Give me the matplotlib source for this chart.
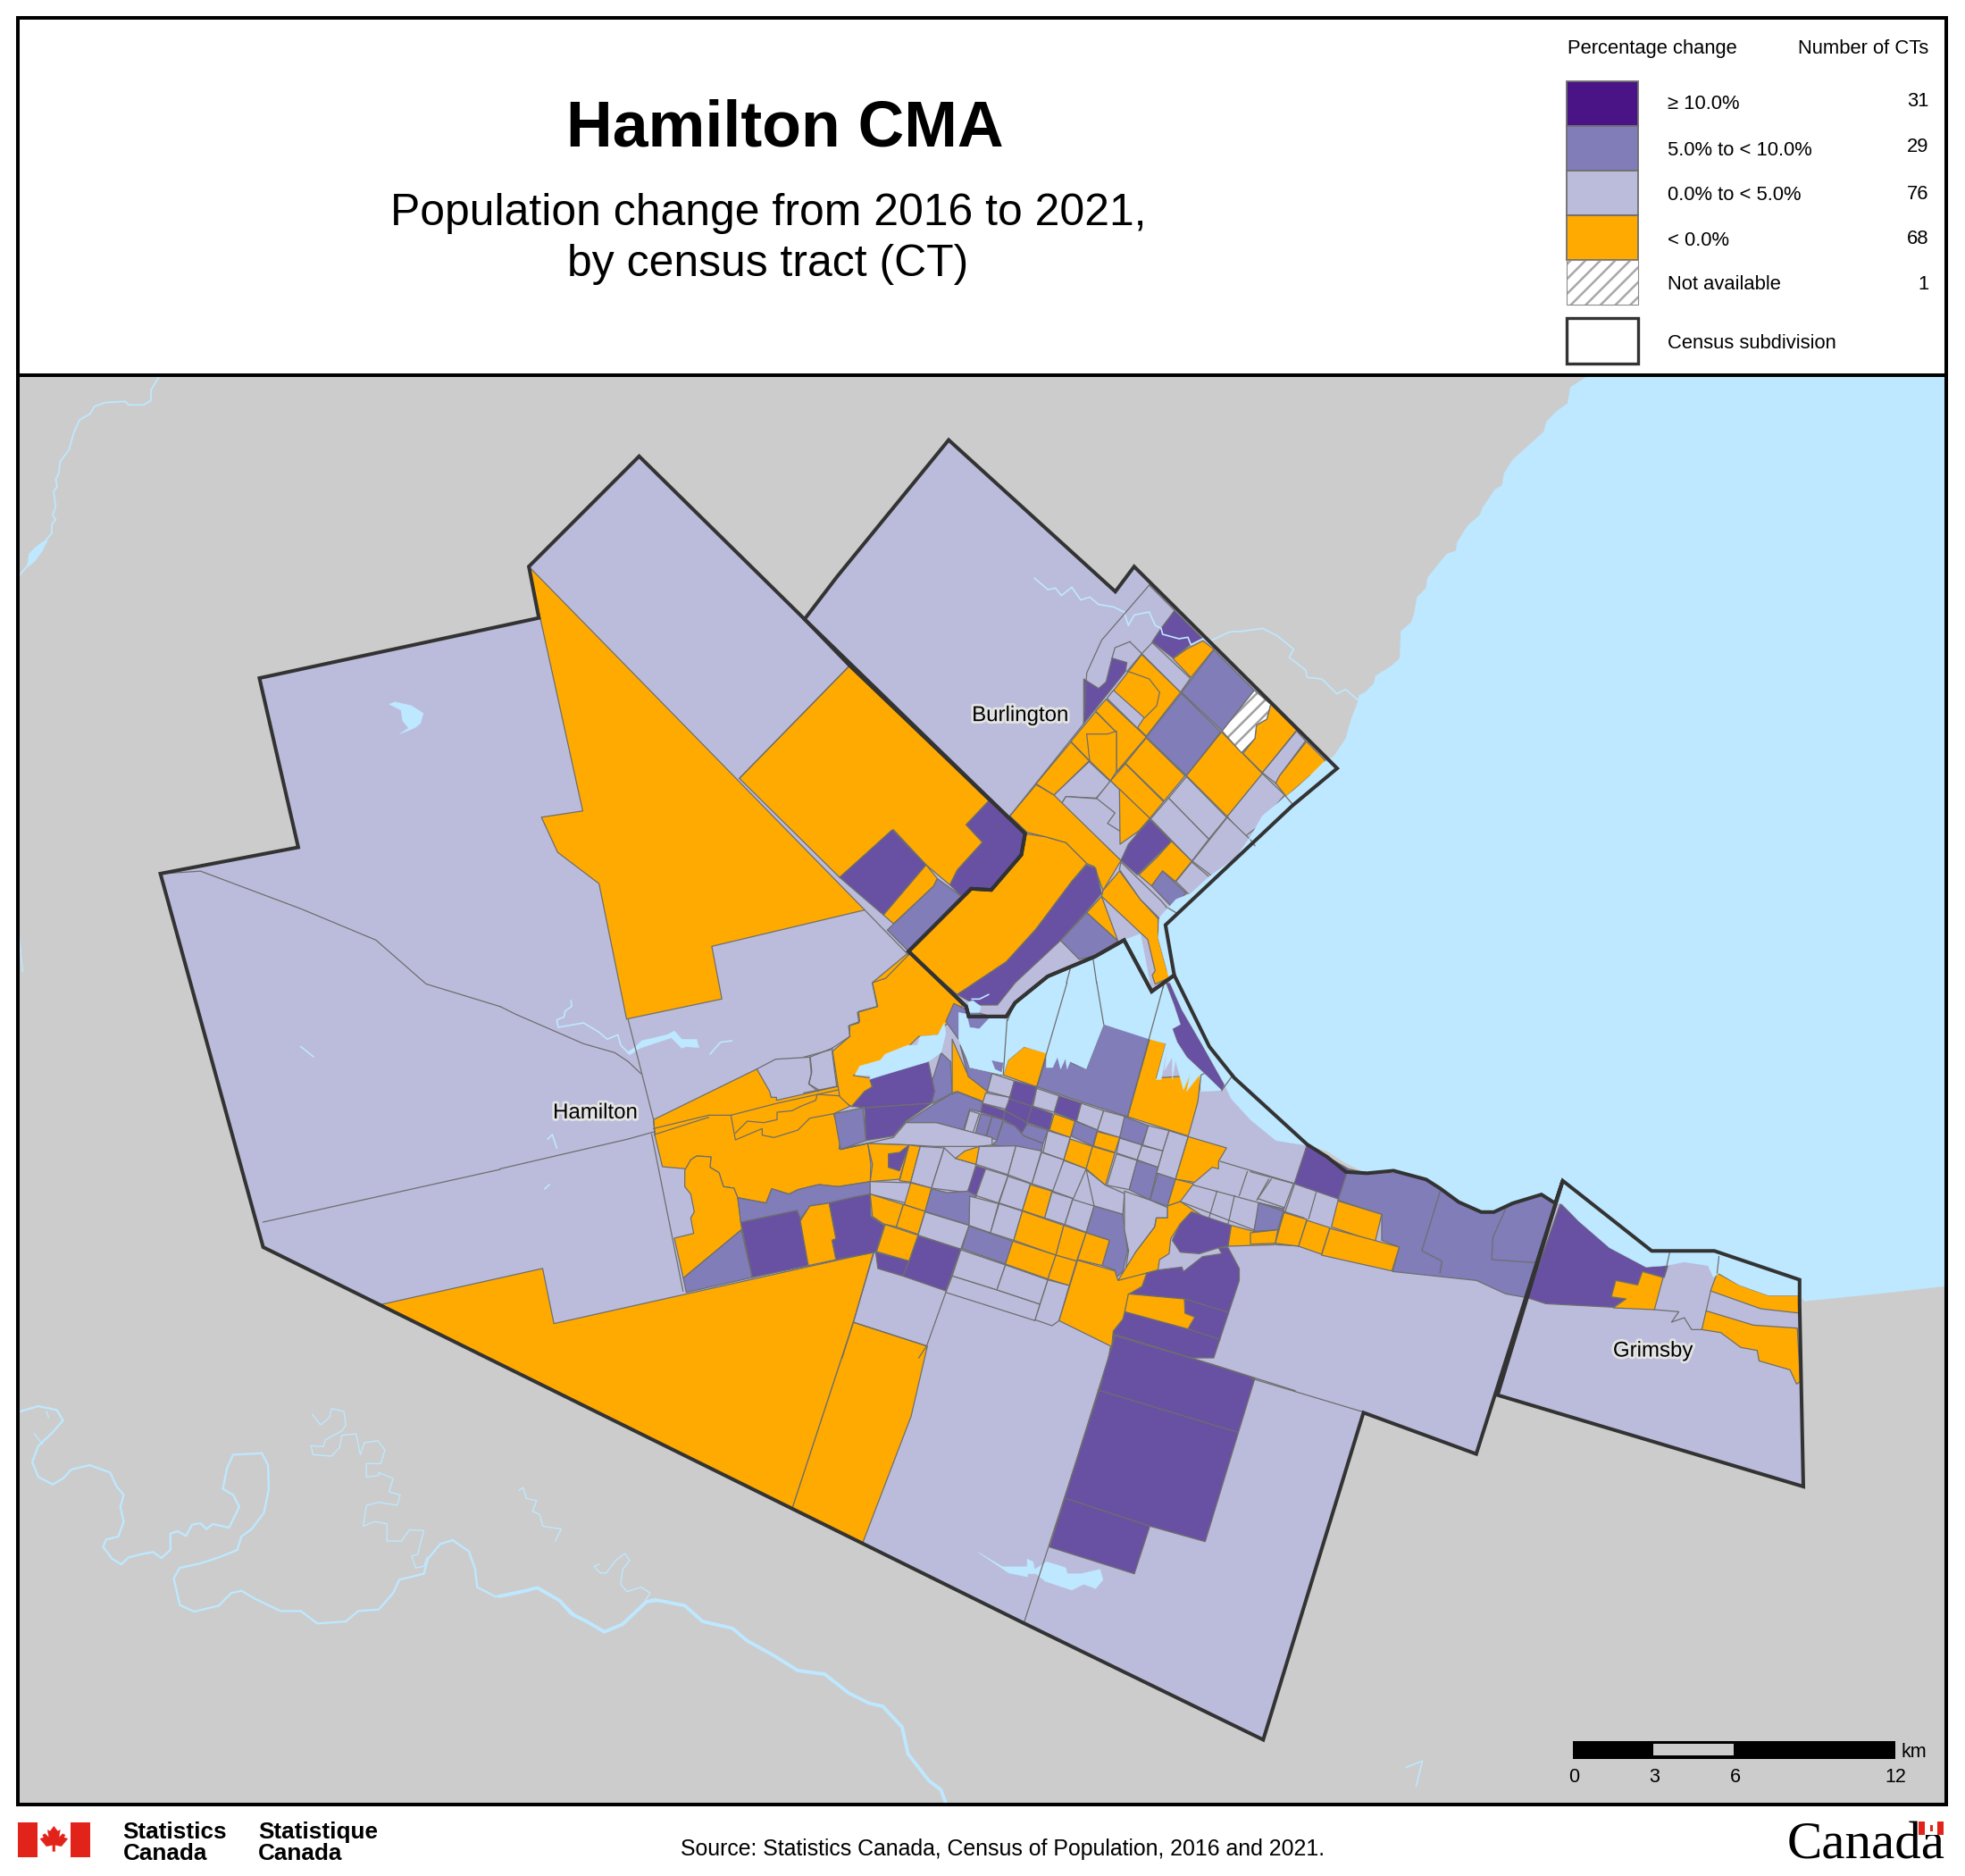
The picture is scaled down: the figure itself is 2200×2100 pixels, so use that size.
"""Hamilton CMA census tract map, traced by hand from the published figure."""
import matplotlib

matplotlib.use("Agg")
import matplotlib.pyplot as plt
import matplotlib.patheffects as pe
from matplotlib.patches import Polygon, Rectangle

plt.rcParams["font.family"] = ["Liberation Sans", "DejaVu Sans"]
plt.rcParams["hatch.linewidth"] = 1.8

# Legend table
LEGEND_LABELS = ["≥ 10.0%", "5.0% to < 10.0%", "0.0% to < 5.0%", "< 0.0%", "Not available"]
LEGEND_COUNTS = [31, 29, 76, 68, 1]
SCALE_KM = [0, 3, 6, 12]

COLORS = {"P": "#6851A2", "M": "#807DB8", "L": "#BBBCDB", "O": "#FFAA00"}
LEGEND_COLORS = ["#4A1486", "#807DB8", "#BBBCDB", "#FFAA00"]
LAND = "#CCCCCC"
WATER = "#BEE8FF"
EDGE = "#6E6E6E"
OUTLINE = "#333333"

# Tract geometry. Each group is traced in the pixel frame of one crop of the map.
# --- whole map frame
CSD_HAMILTON = [(422, 452), (510, 364), (642, 494), (678, 531), (818, 665), (815, 682), (791, 710), (775, 709),
                (725, 759), (771, 803), (773, 811), (803, 811), (810, 800), (836, 779), (874, 763), (897, 750),
                (919, 791), (937, 778), (965, 835), (985, 860), (1043, 913), (1059, 923), (1074, 935), (1091, 936),
                (1112, 934), (1138, 941), (1149, 948), (1164, 959), (1182, 967), (1192, 967), (1207, 960),
                (1230, 953), (1241, 960), (1247, 942), (1178, 1160), (1088, 1127), (1008, 1388), (817, 1295),
                (210, 995), (128, 697), (238, 676), (207, 541), (430, 493)]
CSD_BURLINGTON = [(905, 452), (890, 472), (757, 351), (668, 460), (642, 494), (818, 665), (815, 682), (791, 710),
                  (775, 709), (725, 759), (771, 803), (773, 811), (803, 811), (810, 800), (836, 779), (874, 763),
                  (897, 750), (919, 791), (937, 778), (930, 738), (1031, 643), (1067, 613)]
CSD_GRIMSBY = [(1247, 942), (1318, 998), (1368, 998), (1436, 1021), (1436, 1040), (1439, 1186), (1195, 1113)]

TRACTS_MAP = [
    ("O", [(422, 452), (465, 647), (432, 652), (445, 680), (478, 705), (500, 813), (576, 797), (568, 755), (690, 726)]),
    ("O", [(590, 621), (678, 531), (789, 639), (771, 658), (784, 672), (764, 694), (758, 706), (739, 690), (713, 662),
           (670, 700)]),
    ("P", [(712, 662), (739, 690), (705, 730), (670, 700)]),
    ("O", [(739, 690), (748, 701), (745, 707), (713, 737), (705, 730)]),
    ("M", [(748, 701), (767, 715), (725, 759), (708, 742), (745, 707)]),
    ("P", [(789, 639), (818, 665), (815, 682), (791, 710), (775, 709), (767, 715), (758, 706), (764, 694), (784, 672),
           (771, 658)]),
    ("O", [(696, 784), (725, 760), (768, 802), (760, 815), (754, 818), (748, 826), (733, 827), (725, 835), (708, 845),
           (681, 858), (694, 860), (696, 867), (690, 871), (690, 876), (680, 883), (669, 877), (664, 839), (678, 827),
           (678, 818), (686, 815), (685, 807), (700, 803)]),
    ("O", [(303, 1041), (433, 1012), (442, 1056), (697, 999), (681, 1055), (632, 1204)]),
    ("O", [(681, 1055), (740, 1074), (727, 1130), (688, 1232), (632, 1204)]),
]

# --- west hamilton crop
TRACTS_WEST = [
    ("O", [(515, 760), (862, 590), (905, 665), (910, 685), (928, 685), (928, 695), (1135, 648), (1140, 682), (1175, 715),
           (1120, 740), (1145, 820), (1138, 858), (1235, 840), (1245, 910), (1243, 968), (1135, 985), (1070, 978),
           (1000, 995), (970, 1010), (912, 992), (893, 1040), (798, 1022), (785, 990), (750, 985), (735, 938), (705, 920),
           (708, 885), (660, 882), (640, 895), (625, 925), (545, 918), (520, 815)]),
    ("O", [(640, 895), (660, 882), (708, 885), (705, 920), (735, 938), (750, 985), (785, 990), (798, 1022), (812, 1128),
           (615, 1292), (585, 1158), (650, 1142), (640, 1090), (652, 1070), (640, 1010), (620, 985), (620, 930)]),
    ("M", [(798, 1022), (893, 1040), (912, 992), (970, 1010), (1000, 995), (1070, 978), (1135, 985), (1243, 968),
           (1243, 1010), (1190, 1020), (1105, 1040), (1040, 1050), (1005, 1098), (997, 1065), (808, 1105)]),
    ("M", [(615, 1292), (810, 1130), (847, 1290), (625, 1340)]),
    ("P", [(808, 1105), (997, 1065), (1012, 1100), (1035, 1250), (847, 1290)]),
    ("O", [(1008, 1100), (1040, 1050), (1105, 1040), (1128, 1160), (1115, 1165), (1128, 1230), (1035, 1250)]),
    ("P", [(1105, 1040), (1190, 1020), (1243, 1010), (1245, 1085), (1290, 1115), (1262, 1205), (1128, 1230), (1115, 1165),
           (1128, 1160)]),
]
LINES_WEST = [
    [(0, 380), (50, 405), (280, 505), (385, 535), (430, 565), (472, 605)], [(0, 925), (430, 825), (520, 800)],
    [(430, 425), (515, 760), (520, 815)],
    [(515, 790), (700, 745), (775, 745), (790, 828), (880, 790), (880, 812), (920, 820), (1000, 795), (1040, 755), (1120, 740)],
    [(518, 810), (700, 752)], [(775, 745), (930, 705), (1135, 660)],
    [(790, 805), (830, 765), (885, 770), (930, 760), (930, 735), (980, 730), (1010, 715), (1060, 695), (1065, 675), (1140, 680)],
    [(862, 590), (925, 557), (1040, 550), (1115, 520), (1175, 480), (1170, 445), (1205, 435), (1200, 400), (1268, 380),
     (1250, 300), (1295, 285), (1378, 200)],
    [(1040, 550), (1045, 605), (1037, 640), (1070, 660)], [(1115, 520), (1135, 650)],
]
RESERVOIR_WEST = [(455, 515), (475, 495), (560, 475), (585, 462), (610, 490), (660, 490), (668, 518), (625, 515),
                  (610, 520), (575, 485), (470, 520), (440, 540), (425, 535)]
STREAMS_WEST = [
    [(238, 360), (240, 380), (218, 395), (215, 415), (190, 425), (195, 450), (280, 435), (330, 465), (360, 490), (395, 475),
     (405, 510), (435, 540)],
    [(705, 540), (740, 500), (778, 495)], [(160, 825), (175, 810), (190, 855)], [(150, 992), (165, 978)],
]

# --- burlington crop
TRACTS_BURL = [
    ("P", [(945, 190), (1040, 285), (1000, 305), (985, 315), (940, 350), (870, 295), (900, 250)]),
    ("O", [(985, 320), (1040, 292), (1077, 320), (1000, 415), (940, 352)]),
    ("M", [(1077, 322), (1213, 458), (1105, 595), (968, 465)]),
    ("M", [(968, 468), (1100, 598), (985, 745), (850, 615)]),
    ("O", [(1268, 505), (1355, 592), (1240, 735), (1175, 670), (1215, 620), (1220, 575), (1255, 555)]),
    ("L", [(1355, 595), (1385, 628), (1298, 745), (1285, 770), (1310, 790), (1240, 735)]),
    ("O", [(1388, 630), (1452, 695), (1440, 730), (1400, 745), (1320, 815), (1285, 770), (1298, 745)]),
    ("O", [(1103, 598), (1240, 738), (1122, 882), (985, 745)]),
    ("L", [(1240, 738), (1315, 810), (1220, 920), (1180, 950), (1122, 882)]),
    ("L", [(985, 748), (1120, 885), (1060, 958), (925, 820)]),
    ("L", [(925, 820), (1060, 958), (1003, 1032), (865, 890)]),
    ("L", [(1122, 885), (1200, 960), (1150, 1020), (1075, 1085), (1005, 1032)]),
    ("L", [(870, 298), (998, 418), (965, 465), (835, 335)]),
    ("O", [(850, 618), (980, 745), (910, 830), (780, 703)]),
    ("O", [(780, 705), (908, 832), (862, 888), (730, 762)]),
    ("O", [(850, 615), (780, 703), (750, 732), (750, 600), (763, 535)]),
    ("O", [(835, 338), (965, 465), (850, 612), (720, 485)]),
    ("L", [(740, 458), (843, 550), (820, 585), (718, 485)]),
    ("O", [(680, 528), (715, 488), (850, 615), (750, 732), (750, 600)]),
    ("O", [(597, 630), (680, 530), (750, 600), (750, 730), (730, 762), (660, 695)]),
    ("O", [(480, 772), (597, 632), (658, 695), (540, 810)]),
    ("L", [(658, 698), (730, 765), (682, 820), (580, 815), (565, 840), (540, 810)]),
    ("L", [(565, 840), (580, 815), (682, 822), (730, 762), (860, 890), (825, 930), (765, 1030)]),
    ("O", [(760, 790), (862, 888), (825, 930), (762, 975)]),
    ("P", [(862, 892), (935, 965), (820, 1078), (765, 1030), (790, 975)]),
    ("O", [(935, 965), (1003, 1032), (948, 1100), (905, 1065), (868, 1115), (825, 1078), (885, 1020)]),
    ("M", [(905, 1065), (985, 1140), (935, 1185), (868, 1115)]),
    ("L", [(1003, 1035), (1080, 1100), (1000, 1150), (950, 1100)]),
    ("O", [(480, 775), (540, 810), (765, 1030), (705, 1130), (675, 1050), (650, 1040), (580, 970), (510, 950),
           (450, 935), (392, 880)]),
    ("O", [(445, 940), (510, 950), (580, 970), (650, 1040), (600, 1100), (480, 1260), (380, 1370), (215, 1480),
           (50, 1335), (262, 1125), (330, 1130), (430, 1010)]),
    ("P", [(650, 1045), (680, 1055), (700, 1140), (650, 1200), (560, 1300), (410, 1440), (350, 1515), (280, 1515),
           (215, 1480), (380, 1370), (480, 1260), (600, 1100)]),
    ("O", [(700, 1150), (755, 1300), (650, 1205)]),
    ("M", [(650, 1205), (755, 1300), (675, 1350), (625, 1362), (562, 1298)]),
    ("O", [(705, 1130), (760, 1065), (830, 1160), (890, 1225), (890, 1290), (920, 1400), (945, 1415), (880, 1445),
           (870, 1415), (880, 1400), (855, 1295), (700, 1150)]),
    ("L", [(765, 1035), (900, 1165), (925, 1195), (895, 1225), (830, 1160), (760, 1060)]),
    ("P", [(640, 420), (690, 452), (715, 430), (735, 350), (785, 365), (780, 395), (640, 570)]),
]
NOT_AVAILABLE_BURL = [(1213, 458), (1268, 505), (1255, 555), (1220, 575), (1215, 620), (1170, 668), (1105, 595)]

# --- central hamilton crop
TRACTS_CORE = [
    ("M", [(445, 130), (470, 70), (500, 85), (590, 115), (550, 160), (515, 150), (485, 190)]),
    ("M", [(395, 355), (430, 235), (460, 265), (465, 370), (405, 405)]),
    ("O", [(465, 190), (510, 300), (575, 365), (565, 400), (480, 365), (465, 370)]),
    ("M", [(490, 210), (520, 285), (625, 310), (590, 305), (575, 365), (515, 315)]),
    ("O", [(625, 310), (640, 260), (690, 215), (765, 235), (730, 350)]),
    ("M", [(730, 350), (765, 235), (885, 290), (940, 140), (1085, 185), (1015, 450), (870, 400)]),
    ("O", [(1015, 450), (1085, 185), (1135, 205), (1105, 320), (1245, 310), (1235, 400), (1205, 515)]),
    ("P", [(1135, 0), (1150, 5), (1185, 90), (1250, 210), (1318, 340), (1310, 362), (1255, 305), (1200, 250),
           (1170, 200), (1155, 155), (1180, 140), (1160, 75)]),
    ("L", [(590, 305), (660, 330), (645, 385), (575, 365)]),
    ("L", [(570, 370), (645, 385), (635, 425), (560, 405)]),
    ("P", [(660, 330), (730, 350), (715, 415), (645, 390)]),
    ("P", [(645, 390), (715, 415), (700, 470), (630, 430)]),
    ("P", [(560, 405), (630, 430), (625, 460), (555, 435)]),
    ("P", [(630, 430), (700, 470), (690, 510), (660, 480), (625, 460)]),
    ("P", [(715, 415), (780, 440), (770, 495), (700, 470)]),
    ("L", [(730, 355), (800, 380), (785, 435), (718, 415)]),
    ("P", [(800, 380), (870, 405), (855, 465), (785, 435)]),
    ("M", [(700, 475), (765, 495), (750, 540), (680, 510)]),
    ("O", [(785, 440), (850, 465), (835, 520), (770, 495)]),
    ("L", [(870, 405), (940, 430), (920, 495), (855, 465)]),
    ("L", [(940, 430), (1010, 450), (990, 520), (920, 497)]),
    ("M", [(1005, 450), (1080, 480), (1060, 545), (990, 520)]),
    ("L", [(1080, 480), (1145, 497), (1125, 565), (1062, 545)]),
    ("L", [(1145, 497), (1205, 517), (1165, 660), (1105, 640), (1125, 565)]),
    ("M", [(850, 465), (920, 495), (905, 548), (838, 515)]),
    ("O", [(920, 500), (990, 520), (975, 570), (908, 548)]),
    ("L", [(765, 497), (835, 520), (815, 595), (750, 570)]),
    ("O", [(835, 525), (905, 550), (885, 625), (815, 595)]),
    ("O", [(905, 550), (975, 572), (945, 680), (885, 625)]),
    ("L", [(990, 522), (1060, 545), (1045, 595), (980, 572)]),
    ("L", [(1060, 547), (1125, 565), (1110, 620), (1045, 595)]),
    ("L", [(980, 575), (1045, 597), (1020, 695), (950, 680)]),
    ("M", [(1045, 597), (1110, 620), (1085, 730), (1020, 695)]),
    ("M", [(1110, 640), (1165, 660), (1140, 750), (1085, 730)]),
    ("O", [(1205, 517), (1325, 555), (1300, 600), (1300, 625), (1280, 620), (1225, 670), (1165, 660)]),
    ("O", [(1165, 660), (1222, 675), (1180, 735), (1140, 750)]),
    ("P", [(150, 415), (190, 365), (215, 350), (205, 320), (390, 265), (410, 365), (400, 405), (190, 420)]),
    ("P", [(190, 420), (400, 405), (320, 465), (300, 490), (280, 515), (195, 530)]),
    ("M", [(95, 440), (185, 420), (195, 530), (115, 560)]),
    ("M", [(320, 470), (405, 410), (460, 375), (485, 368), (560, 400), (555, 435), (520, 425), (500, 495), (415, 470)]),
    ("L", [(520, 430), (550, 440), (530, 505), (503, 495)]),
    ("M", [(555, 440), (590, 450), (570, 518), (537, 510)]),
    ("M", [(590, 450), (625, 460), (605, 528), (572, 518)]),
    ("M", [(625, 465), (660, 480), (690, 515), (750, 540), (745, 565), (590, 545), (605, 530)]),
    ("L", [(115, 560), (195, 540), (280, 520), (320, 470), (415, 470), (590, 520), (590, 545), (545, 550), (410, 550),
           (330, 545), (200, 540)]),
    ("O", [(200, 540), (330, 545), (300, 660), (208, 668), (215, 610)]),
    ("P", [(265, 575), (300, 570), (330, 545), (300, 632), (265, 620)]),
    ("O", [(330, 545), (365, 550), (335, 670), (300, 665)]),
    ("L", [(365, 550), (440, 555), (400, 690), (335, 670)]),
    ("L", [(440, 555), (475, 590), (540, 610), (515, 705), (400, 690)]),
    ("P", [(540, 615), (570, 625), (540, 712), (512, 705)]),
    ("O", [(475, 590), (505, 565), (550, 550), (540, 610)]),
    ("L", [(550, 550), (665, 548), (640, 645), (540, 610)]),
    ("L", [(665, 548), (745, 565), (715, 675), (640, 645)]),
    ("L", [(745, 570), (815, 595), (785, 700), (715, 675)]),
    ("L", [(815, 597), (885, 625), (845, 725), (780, 700)]),
    ("L", [(570, 625), (640, 648), (610, 740), (540, 715)]),
    ("L", [(640, 650), (710, 675), (685, 765), (612, 740)]),
    ("O", [(710, 678), (778, 700), (755, 790), (685, 765)]),
    ("L", [(778, 703), (843, 725), (818, 812), (755, 790)]),
    ("L", [(843, 728), (910, 750), (885, 838), (818, 812)]),
    ("L", [(885, 628), (945, 680), (1005, 708), (1000, 778), (910, 750)]),
    ("M", [(910, 750), (1000, 778), (1015, 900), (1000, 970), (980, 990), (975, 965), (935, 950), (958, 865), (885, 840)]),
    ("L", [(1005, 700), (1085, 730), (1140, 755), (1140, 790), (1105, 790), (1100, 820), (1040, 905), (1005, 990),
           (1018, 900), (1005, 830)]),
    ("O", [(1140, 750), (1180, 735), (1245, 780), (1215, 770), (1180, 810), (1150, 860), (1145, 910), (1115, 930),
           (1110, 965), (1075, 975), (1000, 1005), (985, 1000), (1040, 905), (1100, 820), (1105, 790), (1140, 790)]),
    ("P", [(1180, 810), (1215, 770), (1340, 815), (1330, 885), (1300, 890), (1240, 910), (1180, 905), (1155, 865)]),
    ("O", [(1340, 815), (1410, 835), (1490, 830), (1475, 880), (1330, 885)]),
    ("M", [(1430, 740), (1505, 760), (1490, 830), (1410, 835)]),
    ("O", [(1510, 770), (1568, 790), (1568, 885), (1480, 880)]),
    ("L", [(208, 668), (335, 672), (320, 740), (208, 710)]),
    ("O", [(335, 672), (400, 690), (380, 768), (315, 745)]),
    ("M", [(400, 692), (450, 705), (515, 700), (540, 715), (520, 815), (380, 768)]),
    ("O", [(208, 710), (312, 745), (290, 820), (250, 810), (215, 785)]),
    ("O", [(312, 745), (380, 768), (358, 845), (290, 820)]),
    ("L", [(380, 770), (518, 815), (492, 895), (358, 848)]),
    ("L", [(520, 717), (610, 742), (585, 840), (518, 815)]),
    ("L", [(612, 742), (685, 767), (658, 865), (585, 840)]),
    ("M", [(518, 817), (655, 868), (632, 945), (495, 893)]),
    ("O", [(685, 767), (815, 815), (790, 915), (658, 865)]),
    ("O", [(815, 815), (885, 840), (855, 935), (790, 915)]),
    ("O", [(885, 840), (958, 865), (935, 950), (858, 930)]),
    ("O", [(655, 868), (790, 915), (765, 995), (632, 945)]),
    ("O", [(790, 915), (855, 935), (832, 1017), (765, 995)]),
    ("O", [(255, 812), (358, 848), (330, 935), (228, 903)]),
    ("P", [(358, 850), (492, 895), (445, 1035), (310, 985), (330, 935)]),
    ("P", [(225, 905), (330, 935), (310, 985), (232, 960)]),
    ("L", [(492, 897), (632, 948), (605, 1032), (465, 985)]),
    ("L", [(632, 948), (765, 998), (740, 1080), (605, 1032)]),
    ("L", [(465, 985), (605, 1032), (740, 1080), (725, 1135), (445, 1040)]),
    ("L", [(765, 998), (832, 1017), (800, 1135), (778, 1152), (725, 1132)]),
    ("P", [(1020, 1045), (1060, 1020), (1075, 975), (1110, 965), (1185, 955), (1190, 970), (1250, 920), (1310, 910),
           (1300, 890), (1330, 890), (1365, 960), (1365, 1000), (1285, 1260), (955, 1260), (970, 1170), (1000, 1130)]),
    ("O", [(858, 932), (975, 968), (985, 1000), (1075, 975), (1060, 1020), (1020, 1045), (1000, 1130), (970, 1170),
           (965, 1222), (800, 1135)]),
]
LINES_CORE = [
    [(1305, 600), (1540, 675)], [(1222, 680), (1430, 740)], [(1180, 735), (1410, 830)], [(1390, 635), (1365, 715)],
    [(1465, 660), (1420, 730)], [(1295, 700), (1270, 790)], [(1350, 715), (1330, 810)], [(1535, 675), (1505, 760)],
    [(1510, 770), (1430, 740)], [(0, 250), (85, 225)], [(20, 250), (25, 300), (15, 340), (45, 365)],
    [(0, 370), (105, 348)],
    [(120, 1260), (155, 1140), (385, 1220), (360, 1260)], [(155, 1140), (220, 905)], [(445, 1040), (385, 1220)],
]
# water cut-outs and small land bits inside the harbour, same crop
HARBOUR_CORE = [(485, 100), (485, 190), (510, 250), (520, 285), (625, 310), (640, 260), (690, 215), (760, 237),
                (760, 285), (780, 285), (795, 250), (805, 290), (820, 255), (825, 290), (835, 265), (885, 290),
                (940, 140), (1085, 190), (1135, 205), (1105, 325), (1120, 325), (1140, 215), (1130, 295), (1155, 250),
                (1155, 325), (1165, 260), (1190, 360), (1210, 310), (1200, 365), (1240, 310), (1245, 365),
                (1310, 362), (1255, 305), (1200, 250), (1170, 200), (1155, 155), (1180, 140), (1160, 75), (1135, 5)]
HARBOUR_NORTH_MAP = [(919, 791), (910, 745), (897, 750), (874, 763), (836, 779), (810, 800), (803, 811)]
HARBOUR_END_CORE = [(640, 125), (585, 115), (550, 155), (520, 150), (510, 105)]
POND_CORE = [(515, 65), (530, 60), (555, 80), (550, 100), (515, 100)]
INLET_CORE = [(160, 310), (175, 280), (240, 260), (255, 240), (325, 210), (355, 210), (365, 180), (420, 175),
              (440, 135), (445, 170), (430, 235), (390, 265), (250, 310), (205, 325), (210, 312)]
ISLAND_CORE = [(590, 262), (625, 270), (620, 300), (600, 290)]
HARBOUR_LINES_CORE = [[(637, 125), (625, 310)], [(825, 0), (730, 350)], [(918, 0), (940, 140)], [(1130, 0), (1015, 450)],
                      [(1240, 360), (1245, 310), (1255, 305)], [(1310, 362), (1345, 310)]]
HARBOUR_LINES_MAP = [[(854, 773), (851, 784)], [(872, 763), (875, 784)], [(928, 788), (929, 784)], [(804, 814), (809, 802)]]

# --- south rural block crop
TRACTS_SOUTH = [
    ("P", [(285, 200), (295, 165), (622, 262), (765, 308), (598, 857), (412, 805), (360, 965), (75, 875)]),
    ("O", [(340, 25), (528, 42), (530, 90), (563, 103), (540, 143), (328, 85)]),
]
LINES_SOUTH = [[(290, 160), (622, 262)], [(238, 348), (708, 490)], [(125, 710), (412, 805)], [(530, 42), (675, 87)],
               [(540, 143), (648, 178)], [(622, 262), (900, 350)]]
POND_SOUTH = [(0, 915), (20, 925), (25, 950), (50, 935), (65, 925), (100, 935), (130, 945), (135, 965), (180, 965),
              (245, 950), (255, 985), (230, 1015), (190, 1000), (150, 1020), (120, 1010), (60, 990), (30, 965), (0, 965)]
POND_SOUTH_WEST_MAP = [(780, 1238), (800, 1250), (820, 1250), (820, 1258), (805, 1255)]

# --- east shore crop
TRACTS_EAST = [
    ("P", [(155, 65), (268, 145), (245, 248), (120, 195)]),
    ("M", [(268, 145), (320, 160), (400, 158), (480, 180), (570, 255), (630, 290), (665, 290), (795, 232), (835, 260),
           (760, 578), (700, 565), (620, 520), (390, 490), (408, 408), (360, 385), (360, 300), (240, 250)]),
    ("O", [(240, 253), (360, 298), (342, 390), (222, 340)]),
    ("O", [(92, 292), (155, 315), (132, 405), (68, 395)]),
    ("O", [(155, 318), (218, 343), (195, 432), (132, 405)]),
    ("O", [(218, 345), (408, 408), (388, 488), (195, 435)]),
    ("M", [(22, 260), (92, 280), (75, 350), (10, 355)]),
    ("O", [(0, 360), (75, 350), (68, 395), (0, 398)]),
    ("P", [(850, 262), (900, 320), (985, 410), (1085, 475), (1145, 470), (1135, 510), (1075, 490), (1062, 535),
           (1002, 520), (990, 575), (1030, 582), (995, 610), (810, 598), (760, 578)]),
    ("O", [(1075, 490), (1132, 510), (1108, 618), (995, 612), (1030, 582), (990, 575), (1002, 520), (1062, 535)]),
    ("O", [(1280, 495), (1340, 535), (1420, 570), (1505, 570), (1508, 630), (1400, 615), (1262, 555)]),
    ("O", [(1250, 622), (1380, 670), (1500, 680), (1508, 860), (1498, 868), (1480, 820), (1395, 790), (1390, 755),
           (1345, 745), (1290, 695), (1238, 685)]),
]
LINES_EAST = [
    [(0, 155), (120, 195)], [(120, 200), (95, 290)], [(180, 225), (160, 312)], [(50, 180), (20, 245), (92, 275)],
    [(520, 222), (470, 420), (525, 455), (520, 495)], [(700, 280), (665, 375), (662, 450), (780, 460)],
    [(1262, 558), (1250, 622)], [(1108, 618), (1175, 625), (1155, 660), (1190, 645), (1210, 685), (1238, 685)],
    [(1150, 425), (1140, 480)], [(1285, 440), (1280, 495)], [(0, 848), (305, 960)],
]

# --- thin boundaries in the rural west and north, whole map frame
LINES_MAP = [
    [(130, 697), (160, 695), (240, 725), (300, 750), (340, 785), (399, 803)], [(210, 975), (399, 933)],
    [(520, 905), (545, 1030)], [(690, 726), (725, 762)], [(590, 621), (678, 531)], [(817, 1295), (880, 1100)],
]
LINES_BURL = [
    [(860, 105), (700, 290), (650, 400), (640, 570)], [(795, 295), (835, 335), (785, 395)], [(795, 295), (745, 315), (735, 350)],
    [(860, 105), (945, 190)], [(392, 880), (640, 570)], [(1315, 810), (1345, 845)], [(1200, 960), (1215, 980)],
    [(925, 1190), (950, 1205)],
    [(790, 395), (860, 420), (895, 465), (885, 510), (845, 550)], [(650, 605), (720, 605), (750, 595)], [(650, 605), (660, 695)],
    [(682, 820), (745, 870), (720, 905), (760, 930)],
]

# --- great lake shore, walked clockwise through the crop frames
LAKE_NE = [(890, 5), (835, 40), (825, 95), (790, 120), (755, 155), (745, 190), (690, 240), (640, 285), (612, 330),
           (605, 370), (580, 385), (540, 445), (530, 470), (490, 505), (455, 560), (450, 590), (420, 600), (395, 630),
           (355, 680), (350, 715), (320, 745), (310, 800), (300, 830), (265, 860), (262, 950), (235, 975), (180, 1010),
           (175, 1035), (145, 1065), (125, 1075), (120, 1100), (100, 1150)]
LAKE_BURL = [(1520, 620), (1480, 680), (1445, 700), (1400, 745), (1350, 790), (1300, 830), (1240, 880),
             (1200, 950), (1150, 1020), (1060, 1085), (1000, 1140), (950, 1160), (895, 1220), (890, 1290), (920, 1400)]
LAKE_CORE = [(1150, 5), (1185, 90), (1250, 210), (1318, 340), (1340, 390), (1400, 460), (1480, 530), (1568, 545)]
LAKE_EAST = [(155, 65), (210, 85), (260, 125), (320, 160), (400, 158), (480, 180), (520, 210), (570, 255), (630, 290),
             (665, 290), (720, 260), (795, 232), (835, 260), (855, 262), (900, 320), (985, 410), (1085, 475),
             (1140, 470), (1190, 458), (1255, 470), (1270, 510), (1285, 495), (1340, 535), (1420, 570), (1505, 570)]
LAKE_CLOSE_MAP = [(1440, 1038), (1500, 1032), (1553, 1026), (1553, 299), (1262, 299)]

# --- north-west corner crop
POND_NW = [(1265, 1105), (1285, 1097), (1340, 1110), (1380, 1135), (1370, 1170), (1350, 1185), (1300, 1205),
           (1330, 1185), (1310, 1160), (1305, 1125)]
BLOB_NW = [(118, 555), (100, 560), (75, 580), (55, 600), (50, 645), (75, 625), (100, 590)]
STREAM_NW = [(492, 5), (465, 50), (465, 85), (440, 100), (410, 100), (390, 100), (378, 88), (310, 92), (275, 105),
             (260, 130), (225, 150), (205, 195), (190, 250), (160, 290), (155, 330), (145, 350), (150, 375), (138, 390),
             (145, 440), (135, 470), (145, 485), (132, 500), (132, 530), (100, 570), (60, 610), (50, 640), (25, 670)]

# --- river crops, south-west
RIVER_SW = [(5, 120), (50, 102), (95, 115), (110, 150), (85, 190), (50, 235), (35, 290), (50, 340), (85, 365), (110, 345),
            (130, 315), (175, 300), (225, 325), (240, 370), (258, 400), (250, 440), (258, 490), (245, 540), (215, 550),
            (208, 575), (230, 615), (252, 633), (270, 610), (305, 598), (330, 592), (350, 612), (372, 585), (372, 530),
            (390, 522), (410, 538), (425, 500), (445, 495), (460, 515), (475, 498), (515, 510), (540, 440), (525, 400),
            (500, 380), (510, 310), (525, 265), (595, 260), (610, 300), (612, 380), (600, 460), (570, 515), (545, 540),
            (535, 585), (490, 610), (440, 632), (395, 645), (380, 680), (395, 770), (430, 792), (490, 772), (520, 730),
            (545, 722), (580, 750), (640, 790), (690, 790), (730, 832), (800, 825), (830, 790), (880, 785), (915, 730),
            (930, 685), (990, 665), (1000, 615), (1030, 565), (1060, 552), (1100, 590), (1115, 650), (1120, 710),
            (1165, 742), (1265, 712), (1320, 755), (1360, 805), (1432, 860), (1480, 830), (1530, 760), (1568, 755)]
BRANCHES_SW = [
    [(718, 130), (738, 165), (760, 140), (765, 110), (795, 120), (800, 165), (790, 185), (750, 215), (745, 238), (715, 235),
     (720, 265), (765, 270), (785, 240), (790, 200), (825, 195), (835, 265), (845, 225), (878, 218), (895, 250), (885, 295),
     (850, 295), (850, 340), (880, 335), (880, 325), (915, 345), (905, 390), (932, 400), (925, 435), (880, 425), (850, 435),
     (842, 505), (870, 490), (900, 497), (900, 555), (935, 555), (955, 517), (990, 520), (975, 600), (960, 605), (970, 645),
     (990, 640), (998, 610)],
    [(1222, 385), (1232, 375), (1240, 412), (1265, 420), (1255, 455), (1272, 465), (1280, 505), (1325, 515), (1310, 555)],
    [(1418, 632), (1405, 640), (1420, 662), (1435, 662), (1458, 620), (1480, 597), (1492, 620), (1475, 650), (1470, 700),
     (1485, 725), (1520, 710), (1542, 730), (1530, 755)],
    [(70, 120), (75, 140)], [(40, 195), (60, 230)],
]
RIVER_SE = [(0, 260), (60, 248), (125, 232), (200, 275), (240, 320), (290, 345), (350, 380), (410, 355), (490, 280),
            (520, 272), (620, 292), (680, 345), (780, 368), (830, 410), (920, 460), (1000, 510), (1090, 522), (1170, 585),
            (1240, 620), (1285, 630), (1350, 700), (1370, 790), (1440, 880), (1480, 910), (1497, 955)]
STREAMS_MAP = [[(1122, 1410), (1135, 1405), (1130, 1425)], [(15, 745), (18, 775)], [(240, 835), (250, 843)]]
STREAMS_BURL = [
    [(475, 82), (520, 120), (545, 115), (565, 140), (600, 112), (630, 155), (660, 145), (690, 170), (740, 178), (775, 195),
     (790, 240), (810, 205), (860, 195), (880, 240), (900, 250), (905, 270), (960, 285), (990, 280), (1000, 305), (1040, 285),
     (1070, 290), (1130, 262), (1170, 260), (1240, 250), (1290, 275), (1345, 320), (1330, 348), (1385, 390), (1390, 415),
     (1440, 420), (1490, 470), (1520, 455), (1560, 490)],
    [(265, 1495), (290, 1495), (320, 1480)],
]

MAPLE_LEAF = [(43, 1457), (46, 1461), (48, 1460), (47, 1466), (50, 1463), (52, 1464), (51, 1466), (54, 1467), (49, 1473),
              (44, 1472), (44, 1477), (42, 1477), (42, 1472), (37, 1473), (32, 1467), (35, 1466), (34, 1464), (36, 1463),
              (39, 1466), (38, 1460), (40, 1461)]

SCALE = 2200 / 1568


def crop(x0, y0, fx=3.0, fy=3.0):
    """Converter from a zoomed crop's pixels to the map frame."""
    return lambda pts: [((x0 + x / fx) / SCALE, (y0 + y / fy) / SCALE) for x, y in pts]


from_burl = crop(1000, 620)
from_core = crop(900, 1100, fx=2.8)
from_east = crop(1400, 1260, fx=2.45)
from_west = crop(560, 1000)
from_south = crop(1150, 1440)
from_nw = crop(14, 420)
from_ne = crop(1480, 420)
from_sw = crop(20, 1540, fx=2.178)
from_se = crop(560, 1700)
from_map = lambda pts: pts

fig = plt.figure(figsize=(22, 21), dpi=100, facecolor="white")
ax = fig.add_axes([0, 0, 1, 1])
ax.set_xlim(0, 1568)
ax.set_ylim(1496.7, 0)
ax.axis("off")


def fill(pts, color, edge=None, lw=0.9, z=1):
    ax.add_patch(Polygon(pts, closed=True, facecolor=color, edgecolor=edge if edge else color,
                         linewidth=lw if edge else 0.3, zorder=z, joinstyle="round"))


def draw_lines(lines, conv=from_map, color=EDGE, lw=0.9, z=5):
    for line in lines:
        pts = conv(line)
        ax.plot([p[0] for p in pts], [p[1] for p in pts], color=color, lw=lw, zorder=z)


# land
ax.add_patch(Rectangle((14, 299), 1539, 1141, facecolor=LAND, edgecolor="none", zorder=0))

# census subdivisions as base, tracts on top
for csd in (CSD_HAMILTON, CSD_BURLINGTON, CSD_GRIMSBY):
    fill(csd, COLORS["L"], z=1)
for group, conv in ((TRACTS_MAP, from_map), (TRACTS_WEST, from_west), (TRACTS_BURL, from_burl), (TRACTS_CORE, from_core),
                    (TRACTS_SOUTH, from_south), (TRACTS_EAST, from_east)):
    for cat, pts in group:
        fill(conv(pts), COLORS[cat], edge=EDGE, z=2)
ax.add_patch(Polygon(from_burl(NOT_AVAILABLE_BURL), closed=True, facecolor="white", edgecolor="#A0A0A0",
                     hatch="//", linewidth=0, zorder=2))
ax.add_patch(Polygon(from_burl(NOT_AVAILABLE_BURL), closed=True, fill=False, edgecolor=EDGE, linewidth=0.9, zorder=2))
draw_lines(LINES_MAP)
draw_lines(LINES_WEST, from_west)
draw_lines(LINES_BURL, from_burl)
draw_lines(LINES_CORE, from_core)
draw_lines(LINES_SOUTH, from_south)
draw_lines(LINES_EAST, from_east)

# water on top of the tracts, so the shore cuts them
lake = from_ne(LAKE_NE) + from_burl(LAKE_BURL) + from_core(LAKE_CORE) + from_east(LAKE_EAST) + LAKE_CLOSE_MAP
fill(lake, WATER, z=3)
fill(from_core(HARBOUR_CORE) + HARBOUR_NORTH_MAP + from_core(HARBOUR_END_CORE), WATER, z=3)
fill(from_core(POND_CORE), WATER, z=3)
fill(from_core(INLET_CORE), WATER, z=3)
fill(from_core(ISLAND_CORE), COLORS["M"], z=4)
fill(from_west(RESERVOIR_WEST), WATER, z=3)
fill(from_south(POND_SOUTH), WATER, z=3)
fill(POND_SOUTH_WEST_MAP, WATER, z=3)
fill(from_nw(POND_NW), WATER, z=3)
fill(from_nw(BLOB_NW), WATER, z=3)
draw_lines(HARBOUR_LINES_CORE, from_core)
draw_lines(HARBOUR_LINES_MAP)

# rivers and streams
draw_lines([STREAM_NW], from_nw, WATER, 1.3, 4)
draw_lines([RIVER_SW], from_sw, WATER, 1.7, 4)
draw_lines(BRANCHES_SW, from_sw, WATER, 1.0, 4)
draw_lines([RIVER_SE], from_se, WATER, 2.8, 4)
draw_lines(STREAMS_MAP, from_map, WATER, 1.2, 4)
draw_lines(STREAMS_WEST, from_west, WATER, 1.2, 4)
draw_lines(STREAMS_BURL, from_burl, WATER, 1.2, 4)

# census subdivision outlines
for csd in (CSD_HAMILTON, CSD_BURLINGTON, CSD_GRIMSBY):
    ax.add_patch(Polygon(csd, closed=True, fill=False, edgecolor=OUTLINE, linewidth=2.9, zorder=6, joinstyle="miter"))

# place names
halo = [pe.withStroke(linewidth=4, foreground="#E4E4E4")]
for name, x, y in (("Burlington", 814, 571), ("Hamilton", 475, 888), ("Grimsby", 1319, 1078)):
    ax.text(x, y, name, fontsize=17.3, ha="center", va="center", color="black", zorder=7, path_effects=halo)

# frame
ax.add_patch(Rectangle((14, 14), 1539, 1426, fill=False, edgecolor="black", linewidth=2.9, zorder=8))
ax.plot([14, 1553], [299, 299], color="black", lw=2.9, zorder=8, solid_capstyle="butt")

# titles
ax.text(626, 103, "Hamilton CMA", fontsize=51.6, fontweight="bold", ha="center", va="center")
ax.text(613, 170, "Population change from 2016 to 2021,", fontsize=35.9, ha="center", va="center")
ax.text(613, 211, "by census tract (CT)", fontsize=35.9, ha="center", va="center")

# legend
LEG_TOPS = [65, 100.5, 136, 172, 207.5]
LEG_TEXT_Y = [83, 120, 156, 192, 227]
LEG_NUM_Y = [81, 117, 155, 191, 227]
ax.text(1251, 39, "Percentage change", fontsize=15.8, va="center")
ax.text(1539, 39, "Number of CTs", fontsize=15.8, ha="right", va="center")
for i, (label, count) in enumerate(zip(LEGEND_LABELS, LEGEND_COUNTS)):
    if i < len(LEGEND_COLORS):
        ax.add_patch(Rectangle((1250, LEG_TOPS[i]), 57, 35.5, facecolor=LEGEND_COLORS[i], edgecolor=EDGE, linewidth=1.3))
    else:
        ax.add_patch(Rectangle((1250, LEG_TOPS[i]), 57, 35.5, facecolor="white", edgecolor="#A8A8A8", hatch="//", linewidth=0))
        ax.add_patch(Rectangle((1250, LEG_TOPS[i]), 57, 35.5, fill=False, edgecolor="#8C8C8C", linewidth=0.8))
    ax.text(1331, LEG_TEXT_Y[i], label, fontsize=15.8, va="center")
    ax.text(1539, LEG_NUM_Y[i], str(count), fontsize=15.8, ha="right", va="center")
ax.add_patch(Rectangle((1250, 254), 57, 36, facecolor="white", edgecolor=OUTLINE, linewidth=2.4))
ax.text(1331, 274, "Census subdivision", fontsize=15.8, va="center")

# scale bar
km_to_x = 21.45
ax.add_patch(Rectangle((1255, 1389), 12 * km_to_x, 14.5, facecolor="black", edgecolor="none", zorder=7))
ax.add_patch(Rectangle((1255 + 3 * km_to_x, 1391.5), 3 * km_to_x, 9, facecolor=LAND, edgecolor="none", zorder=7))
for km in SCALE_KM:
    ax.text(1256 + km * 21.4, 1418, str(km), fontsize=15.5, ha="center", va="center", zorder=7)
ax.text(1517, 1398, "km", fontsize=15.5, va="center", zorder=7)

# footer
RED = "#E2231A"
ax.add_patch(Rectangle((14, 1454), 16, 27.5, facecolor=RED, edgecolor="none"))
ax.add_patch(Rectangle((56, 1454), 16, 27.5, facecolor=RED, edgecolor="none"))
fill(MAPLE_LEAF, RED, z=2)
for x, word_top, word_bottom in ((98, "Statistics", "Canada"), (206, "Statistique", "Canada")):
    ax.text(x, 1462, word_top, fontsize=18.8, fontweight="bold", va="center")
    ax.text(x, 1479, word_bottom, fontsize=18.8, fontweight="bold", va="center")
ax.text(800, 1475, "Source: Statistics Canada, Census of Population, 2016 and 2021.", fontsize=17.9, ha="center", va="center")
ax.text(1552, 1473, "Canada", fontsize=42.5, family="Liberation Serif", ha="right", va="center")
ax.add_patch(Rectangle((1531, 1453), 20, 11, facecolor="white", edgecolor="none", zorder=3))
ax.add_patch(Rectangle((1531, 1453), 5, 11, facecolor=RED, edgecolor="none", zorder=3))
ax.add_patch(Rectangle((1546, 1453), 5, 11, facecolor=RED, edgecolor="none", zorder=3))
ax.add_patch(Rectangle((1540, 1456), 2.5, 5, facecolor=RED, edgecolor="none", zorder=3))

fig.savefig("out.png", dpi=100, facecolor="white")
